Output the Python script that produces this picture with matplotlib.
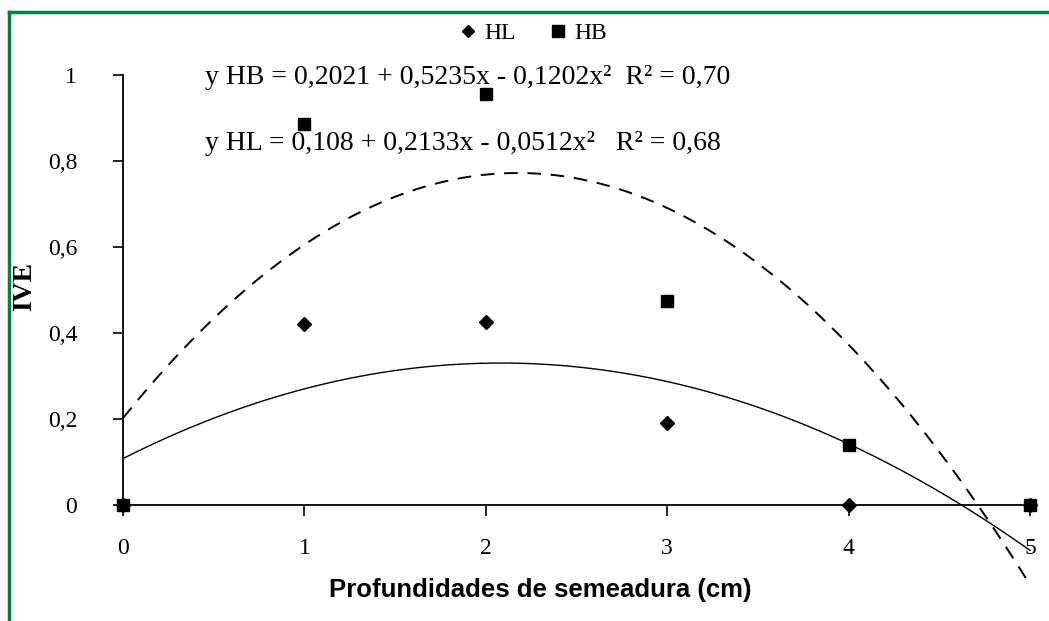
import numpy as np
import matplotlib
matplotlib.use("Agg")
import matplotlib.pyplot as plt
from matplotlib.lines import Line2D

depths = [0, 1, 2, 3, 4, 5]
hl_values = [0.0, 0.42, 0.425, 0.19, 0.0, 0.0]
hb_values = [0.0, 0.885, 0.955, 0.475, 0.14, 0.0]
hb_coef = [0.2021, 0.5235, -0.1202]
hl_coef = [0.108, 0.2133, -0.0512]
x_ticks = [0, 1, 2, 3, 4, 5]
y_ticks = [0, 0.2, 0.4, 0.6, 0.8, 1.0]
y_labels = ["0", "0,2", "0,4", "0,6", "0,8", "1"]

W, H = 1049, 621
fig = plt.figure(figsize=(W / 100, H / 100), dpi=100)
serif = ["Liberation Serif", "DejaVu Serif"]

ax = fig.add_axes([123 / W, 1 - 505 / H, (1030 - 123) / W, (505 - 75) / H])
ax.set_xlim(0, 5)
ax.set_ylim(0, 1)

xs = np.linspace(0, 5, 300)
yhb = hb_coef[0] + hb_coef[1] * xs + hb_coef[2] * xs ** 2
yhl = hl_coef[0] + hl_coef[1] * xs + hl_coef[2] * xs ** 2
ax.plot(xs, yhb, color="black", lw=1.4, dashes=(7, 5), clip_on=False, zorder=2)
ax.plot(xs, yhl, color="black", lw=1.0, clip_on=False, zorder=2)

ax.plot(depths, hl_values, linestyle="none", marker="D", markersize=7.5,
        color="black", clip_on=False, zorder=4)
ax.plot(depths, hb_values, linestyle="none", marker="s", markersize=9,
        color="black", clip_on=False, zorder=5)

for s in ["top", "right"]:
    ax.spines[s].set_visible(False)
ax.spines["left"].set_linewidth(1.3)
ax.spines["bottom"].set_linewidth(1.3)
ax.set_xticks(x_ticks)
ax.set_xticklabels([str(t) for t in x_ticks], fontfamily=serif, fontsize=17)
ax.set_yticks(y_ticks)
ax.set_yticklabels(y_labels, fontfamily=serif, fontsize=17)
ax.tick_params(axis="x", direction="out", length=8, width=1.2, pad=16)
ax.tick_params(axis="y", direction="out", length=7, width=1.2, pad=26)

ax.set_ylabel("IVE", fontfamily=serif, fontweight="bold", fontsize=20)
ax.yaxis.set_label_coords(-(123 - 37) / (1030 - 123), (505 - 287) / (505 - 75))
fig.text(540 / W, 1 - 590 / H, "Profundidades de semeadura (cm)",
         fontfamily=["Liberation Sans", "DejaVu Sans"], fontweight="bold",
         fontsize=18.5, ha="center", va="center")

fig.text(205 / W, 1 - 78 / H,
         "y HB = 0,2021 + 0,5235x - 0,1202x\u00b2  R\u00b2 = 0,70",
         fontfamily=serif, fontsize=20, ha="left", va="center")
fig.text(205 / W, 1 - 143 / H,
         "y HL = 0,108 + 0,2133x - 0,0512x\u00b2   R\u00b2 = 0,68",
         fontfamily=serif, fontsize=20, ha="left", va="center")

handles = [Line2D([], [], linestyle="none", marker="D", markersize=6, color="black"),
           Line2D([], [], linestyle="none", marker="s", markersize=8, color="black")]
fig.legend(handles, ["HL", "HB"], loc="center", bbox_to_anchor=(534 / W, 1 - 33 / H),
           ncol=2, frameon=False, prop={"family": serif, "size": 17},
           handlelength=0.6, handletextpad=0.4, columnspacing=1.5)

green = "#00843D"
fig.add_artist(Line2D([9 / W, 1.0], [1 - 12 / H, 1 - 12 / H], color=green, lw=2.5))
fig.add_artist(Line2D([9 / W, 9 / W], [0.0, 1 - 12 / H], color=green, lw=2.5))

fig.savefig("out.png", dpi=100)
